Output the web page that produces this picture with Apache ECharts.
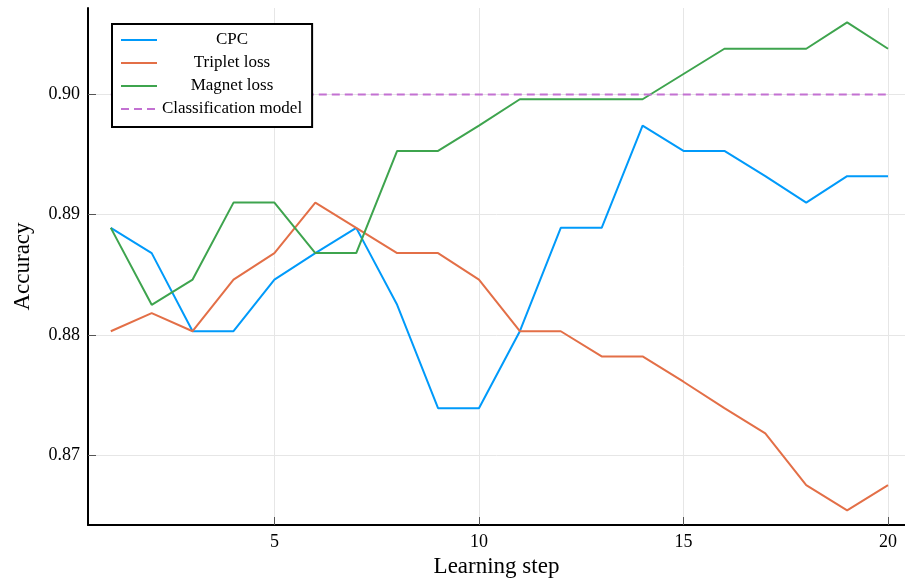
<!DOCTYPE html>
<html>
<head>
<meta charset="utf-8">
<script src="https://cdn.jsdelivr.net/npm/echarts@6/dist/echarts.min.js"></script>
<style>
  html, body { margin: 0; padding: 0; background: #ffffff; }
  #chart { width: 905px; height: 585px; }
</style>
</head>
<body>
<div id="chart"></div>
<script>
// Learning steps on the x axis
const steps = [1, 2, 3, 4, 5, 6, 7, 8, 9, 10, 11, 12, 13, 14, 15, 16, 17, 18, 19, 20];

// Accuracy per learning step
const cpc = [0.8889, 0.8868, 0.8803, 0.8803, 0.8846, 0.8868, 0.8889, 0.8825, 0.8739, 0.8739,
             0.8803, 0.8889, 0.8889, 0.8974, 0.8953, 0.8953, 0.8932, 0.8910, 0.8932, 0.8932];
const tripletLoss = [0.8803, 0.8818, 0.8803, 0.8846, 0.8868, 0.8910, 0.8889, 0.8868, 0.8868, 0.8846,
                     0.8803, 0.8803, 0.8782, 0.8782, 0.8761, 0.8739, 0.8718, 0.8675, 0.8654, 0.8675];
const magnetLoss = [0.8889, 0.8825, 0.8846, 0.8910, 0.8910, 0.8868, 0.8868, 0.8953, 0.8953, 0.8974,
                    0.8996, 0.8996, 0.8996, 0.8996, 0.9017, 0.9038, 0.9038, 0.9038, 0.9060, 0.9038];
const classificationModel = [0.90, 0.90, 0.90, 0.90, 0.90, 0.90, 0.90, 0.90, 0.90, 0.90,
                             0.90, 0.90, 0.90, 0.90, 0.90, 0.90, 0.90, 0.90, 0.90, 0.90];

// Tick positions
const xTicks = [5, 10, 15, 20];
const yTicks = [0.87, 0.88, 0.89, 0.90];

const FONT = "'Liberation Serif', 'DejaVu Serif', serif";

function pairs(values) {
  return steps.map((s, i) => [s, values[i]]);
}

function lineSeries(name, values, color, dashed) {
  return {
    name: name,
    type: 'line',
    data: pairs(values),
    symbol: 'none',
    showSymbol: false,
    animation: false,
    lineStyle: { color: color, width: 2, type: dashed ? [8, 5] : 'solid' },
    itemStyle: { color: color },
    emphasis: { disabled: true }
  };
}

const chart = echarts.init(document.getElementById('chart'), null, { renderer: 'canvas' });

chart.setOption({
  backgroundColor: '#ffffff',
  animation: false,
  grid: {
    left: 88, right: 0, top: 8, bottom: 60,
    containLabel: false,
    outerBoundsMode: 'none'
  },
  legend: {
    left: 112, top: 24,
    orient: 'vertical',
    backgroundColor: '#ffffff',
    borderColor: '#000000',
    borderWidth: 2,
    borderRadius: 0,
    padding: [7, 10, 9, 8],
    itemWidth: 36,
    itemHeight: 14,
    itemGap: 5,
    selectedMode: false,
    // legend keys show only the line sample, no marker
    itemStyle: { opacity: 0 },
    lineStyle: { width: 2 },
    formatter: name => '{t|' + name + '}',
    textStyle: {
      fontFamily: FONT,
      fontSize: 17,
      color: '#000000',
      rich: { t: { width: 140, height: 18, lineHeight: 18, align: 'center', fontFamily: FONT, fontSize: 17, color: '#000000' } }
    },
    data: ['CPC', 'Triplet loss', 'Magnet loss', 'Classification model']
  },
  xAxis: {
    type: 'value',
    min: 0.443,
    max: 20.415,
    name: 'Learning step',
    nameLocation: 'middle',
    nameGap: 30,
    nameTextStyle: { fontFamily: FONT, fontSize: 23, color: '#000000' },
    axisLine: { show: true, onZero: false, lineStyle: { color: '#000000', width: 2 } },
    axisTick: { show: true, inside: true, length: 8, customValues: xTicks, lineStyle: { color: '#555555', width: 1 } },
    axisLabel: { customValues: xTicks, margin: 8, fontFamily: FONT, fontSize: 18, color: '#000000' },
    splitLine: { show: true, lineStyle: { color: '#e6e6e6', width: 1 } }
  },
  yAxis: {
    type: 'value',
    min: 0.86418,
    max: 0.90719,
    name: 'Accuracy',
    nameLocation: 'middle',
    nameRotate: 90,
    nameGap: 54,
    nameTextStyle: { fontFamily: FONT, fontSize: 23, color: '#000000' },
    axisLine: { show: true, onZero: false, lineStyle: { color: '#000000', width: 2 } },
    axisTick: { show: true, inside: true, length: 8, customValues: yTicks, lineStyle: { color: '#555555', width: 1 } },
    axisLabel: {
      customValues: yTicks, margin: 8, fontFamily: FONT, fontSize: 18, color: '#000000',
      formatter: v => v.toFixed(2)
    },
    splitLine: { show: true, lineStyle: { color: '#e6e6e6', width: 1 } }
  },
  series: [
    lineSeries('CPC', cpc, '#009AFA', false),
    lineSeries('Triplet loss', tripletLoss, '#E36F47', false),
    lineSeries('Magnet loss', magnetLoss, '#3EA44E', false),
    lineSeries('Classification model', classificationModel, '#C371D2', true)
  ]
});
</script>
</body>
</html>
